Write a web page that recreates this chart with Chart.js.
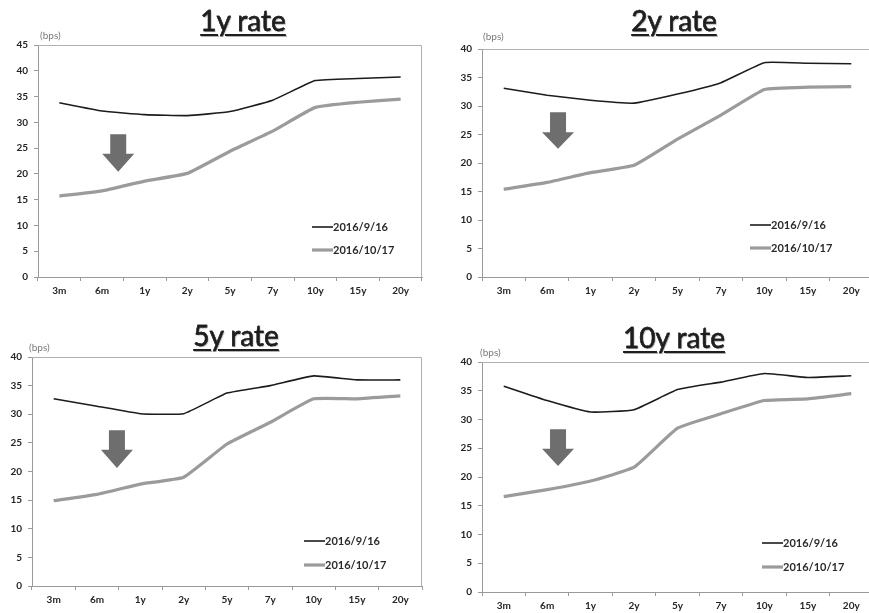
<!DOCTYPE html>
<html>
<head>
<meta charset="utf-8">
<script src="https://cdn.jsdelivr.net/npm/chart.js@4.4.1/dist/chart.umd.min.js"></script>
<style>
  html, body { margin: 0; padding: 0; background: #fff; }
  body { width: 869px; height: 613px; position: relative; overflow: hidden; }
  .panel { position: absolute; }
  .title {
    position: absolute; font-family: Lato, "Open Sans", sans-serif; font-size: 28px;
    font-weight: 400; color: #1e1e1e; line-height: 30px; white-space: nowrap;
    text-decoration: underline; text-decoration-thickness: 2px; text-underline-offset: 3px;
    text-shadow: 1px 1px 1px rgba(0,0,0,0.3); transform: translateX(-50%);
    -webkit-text-stroke: 0.4px #1e1e1e;
  }
</style>
</head>
<body>
<script>
// Tenors on the horizontal axis
const tenors = ['3m', '6m', '1y', '2y', '5y', '7y', '10y', '15y', '20y'];
const seriesNames = ['2016/9/16', '2016/10/17'];

// Implied volatility (bps) by expiry, for each swap tenor
const rate1ySep = [33.8, 32.2, 31.5, 31.3, 32.1, 34.3, 38.1, 38.5, 38.8];
const rate1yOct = [15.7, 16.7, 18.6, 20.1, 24.4, 28.3, 32.9, 33.9, 34.5];
const rate2ySep = [33.1, 31.9, 31.0, 30.5, 32.1, 34.1, 37.6, 37.5, 37.4];
const rate2yOct = [15.4, 16.6, 18.3, 19.6, 24.2, 28.4, 32.9, 33.3, 33.4];
const rate5ySep = [32.7, 31.4, 30.1, 30.1, 33.7, 35.0, 36.7, 36.0, 36.0];
const rate5yOct = [14.9, 16.0, 17.8, 19.0, 24.8, 28.6, 32.7, 32.7, 33.2];
const rate10ySep = [35.8, 33.3, 31.3, 31.7, 35.2, 36.5, 38.0, 37.3, 37.6];
const rate10yOct = [16.6, 17.8, 19.3, 21.7, 28.5, 31.0, 33.3, 33.6, 34.5];

const panelTitles = ['1y rate', '2y rate', '5y rate', '10y rate'];
const yAxisMax = [45, 40, 40, 40];
const unitLabel = '(bps)';

// Page layout for the four charts
const panels = [
  { sep: rate1ySep, oct: rate1yOct, box: { left: 0, top: 0, w: 434, h: 305 },
    area: { L: 38, T: 45, R: 422, B: 277 }, titleX: 243, titleTop: 5,
    unit: { dx: 2, dy: -9 }, legend: { dx: 274, dy1: -50, dy2: -27 },
    arrow: { at: 1.38, top: 27.7, neck: 23.9, tip: 20.4 } },
  { sep: rate2ySep, oct: rate2yOct, box: { left: 434, top: 0, w: 446, h: 305 },
    area: { L: 482, T: 49, R: 873, B: 277 }, titleX: 674, titleTop: 5,
    unit: { dx: 1, dy: -12 }, legend: { dx: 268, dy1: -52, dy2: -29 },
    arrow: { at: 1.25, top: 28.9, neck: 25.4, tip: 22.5 } },
  { sep: rate5ySep, oct: rate5yOct, box: { left: 0, top: 305, w: 434, h: 308 },
    area: { L: 32, T: 357, R: 422, B: 586 }, titleX: 236, titleTop: 320,
    unit: { dx: -3, dy: -9 }, legend: { dx: 272, dy1: -45, dy2: -21 },
    arrow: { at: 1.46, top: 27.2, neck: 23.8, tip: 20.6 } },
  { sep: rate10ySep, oct: rate10yOct, box: { left: 434, top: 305, w: 446, h: 308 },
    area: { L: 482, T: 362, R: 873, B: 592 }, titleX: 674, titleTop: 322,
    unit: { dx: -2, dy: -9 }, legend: { dx: 280, dy1: -49, dy2: -25 },
    arrow: { at: 1.25, top: 28.3, neck: 24.9, tip: 21.9 } }
];

const Y_AXIS_W = 30;
const X_AXIS_H = 20;
const tickFont = { family: 'Lato, "Open Sans", sans-serif', size: 10, weight: 'bold' };
const axisGray = '#9a9a9a';
const seriesColors = ['#1c1c1c', '#9b9b9b'];
const seriesWidths = [1.6, 3.2];

// Frame, unit label, arrow and in-plot legend
const decorations = {
  id: 'decorations',
  beforeDatasetsDraw(chart) {
    const a = chart.chartArea, ctx = chart.ctx;
    ctx.save();
    ctx.strokeStyle = '#b0b0b0';
    ctx.lineWidth = 1;
    ctx.beginPath();
    ctx.moveTo(a.left, a.top + 0.5);
    ctx.lineTo(a.right - 0.5, a.top + 0.5);
    ctx.lineTo(a.right - 0.5, a.bottom);
    ctx.stroke();
    ctx.restore();
  },
  afterDatasetsDraw(chart, args, opts) {
    const a = chart.chartArea, ctx = chart.ctx;
    const xs = chart.scales.x, ys = chart.scales.y;
    const p = opts.panel;
    ctx.save();
    // unit label
    ctx.fillStyle = '#7a7a7a';
    ctx.font = '10px Lato, "Open Sans", sans-serif';
    ctx.textBaseline = 'middle';
    ctx.textAlign = 'left';
    ctx.fillText(unitLabel, a.left + p.unit.dx, a.top + p.unit.dy);
    // downward arrow
    const cx = xs.getPixelForValue(p.arrow.at);
    const yTop = ys.getPixelForValue(p.arrow.top);
    const yNeck = ys.getPixelForValue(p.arrow.neck);
    const yTip = ys.getPixelForValue(p.arrow.tip);
    ctx.fillStyle = '#6e6e6e';
    ctx.beginPath();
    ctx.moveTo(cx - 8, yTop);
    ctx.lineTo(cx + 8, yTop);
    ctx.lineTo(cx + 8, yNeck);
    ctx.lineTo(cx + 16, yNeck);
    ctx.lineTo(cx, yTip);
    ctx.lineTo(cx - 16, yNeck);
    ctx.lineTo(cx - 8, yNeck);
    ctx.closePath();
    ctx.fill();
    // legend
    const lx = a.left + p.legend.dx;
    const rows = [a.bottom + p.legend.dy1, a.bottom + p.legend.dy2];
    ctx.font = 'bold 11px Lato, "Open Sans", sans-serif';
    chart.data.datasets.forEach((ds, i) => {
      ctx.strokeStyle = ds.borderColor;
      ctx.lineWidth = ds.borderWidth;
      ctx.beginPath();
      ctx.moveTo(lx, rows[i]);
      ctx.lineTo(lx + 21, rows[i]);
      ctx.stroke();
      ctx.fillStyle = '#2a2a2a';
      ctx.fillText(ds.label, lx + 21, rows[i]);
    });
    ctx.restore();
  }
};

panels.forEach((p, idx) => {
  const div = document.createElement('div');
  div.className = 'panel';
  Object.assign(div.style, {
    left: p.box.left + 'px', top: p.box.top + 'px',
    width: p.box.w + 'px', height: p.box.h + 'px'
  });
  const canvas = document.createElement('canvas');
  div.appendChild(canvas);
  document.body.appendChild(div);

  const title = document.createElement('div');
  title.className = 'title';
  title.textContent = panelTitles[idx];
  title.style.left = p.titleX + 'px';
  title.style.top = p.titleTop + 'px';
  document.body.appendChild(title);

  const pad = {
    left: p.area.L - p.box.left - Y_AXIS_W,
    top: p.area.T - p.box.top,
    right: p.box.left + p.box.w - p.area.R,
    bottom: p.box.top + p.box.h - p.area.B - X_AXIS_H
  };

  new Chart(canvas, {
    type: 'line',
    data: {
      labels: tenors,
      datasets: [p.sep, p.oct].map((vals, i) => ({
        label: seriesNames[i],
        data: vals,
        borderColor: seriesColors[i],
        backgroundColor: seriesColors[i],
        borderWidth: seriesWidths[i],
        pointRadius: 0,
        tension: 0.12,
        fill: false
      }))
    },
    options: {
      responsive: true,
      maintainAspectRatio: false,
      animation: false,
      events: [],
      layout: { padding: pad },
      plugins: {
        legend: { display: false },
        tooltip: { enabled: false },
        title: { display: false },
        decorations: { panel: p }
      },
      scales: {
        x: {
          offset: true,
          afterFit(scale) { scale.height = X_AXIS_H; },
          grid: { offset: true, drawOnChartArea: false, drawTicks: true, tickLength: 4, color: axisGray },
          border: { color: axisGray, width: 1 },
          ticks: { font: tickFont, color: '#262626', padding: 4, maxRotation: 0, autoSkip: false }
        },
        y: {
          min: 0,
          max: yAxisMax[idx],
          afterFit(scale) { scale.width = Y_AXIS_W; },
          grid: { drawOnChartArea: false, drawTicks: true, tickLength: 4, color: axisGray },
          border: { color: axisGray, width: 1 },
          ticks: { stepSize: 5, font: tickFont, color: '#262626', padding: 6 }
        }
      }
    },
    plugins: [decorations]
  });
});
</script>
</body>
</html>
